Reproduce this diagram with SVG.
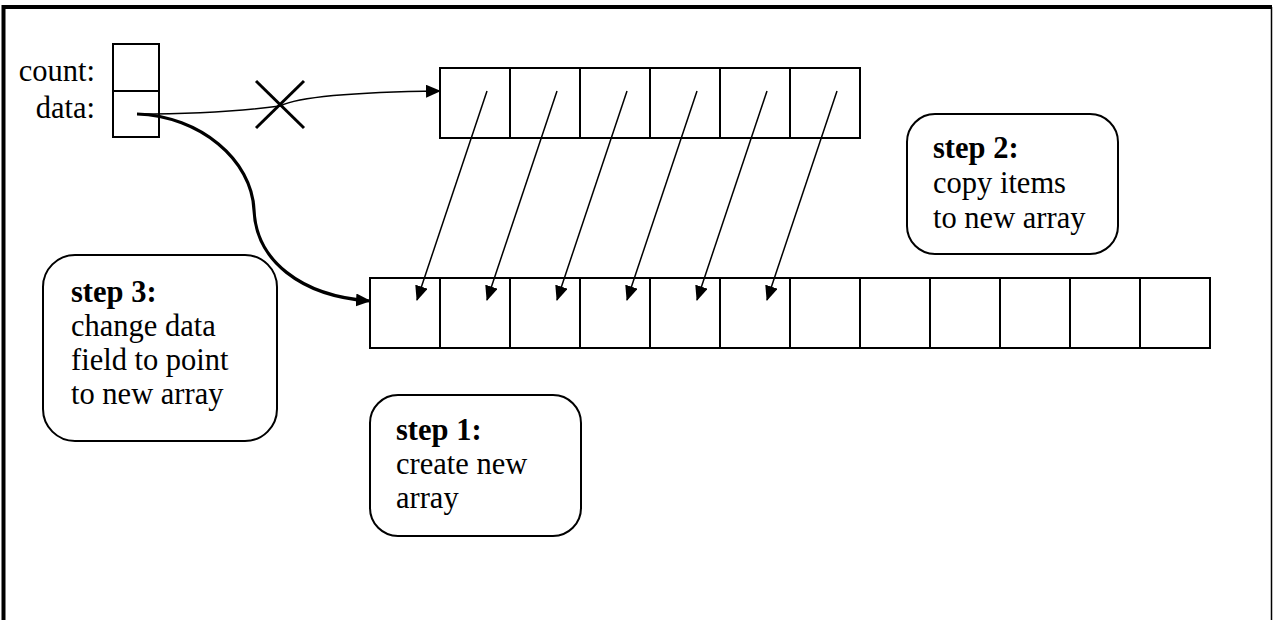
<svg xmlns="http://www.w3.org/2000/svg" width="1273" height="620" viewBox="0 0 1273 620">
<style>
.cell{fill:#fff;stroke:#000;stroke-width:2}
.box{fill:#fff;stroke:#000;stroke-width:2}
.t{font-family:"Liberation Serif",serif;font-size:30.5px;fill:#000}
.b{font-weight:bold}
.thin{fill:none;stroke:#000;stroke-width:1.5}
.thick{fill:none;stroke:#000;stroke-width:3.2}
</style>
<defs>
<marker id="ah" markerWidth="15" markerHeight="13" refX="14" refY="6.5" orient="auto" markerUnits="userSpaceOnUse">
<path d="M0,0 L15,6.5 L0,13 z" fill="#000"/>
</marker>
<marker id="ahk" markerWidth="15" markerHeight="13" refX="14" refY="6.5" orient="auto" markerUnits="userSpaceOnUse">
<path d="M0,0 L15,6.5 L0,13 z" fill="#000"/>
</marker>
</defs>
<rect width="1273" height="620" fill="#fff"/>
<g id="frame">
<path d="M3.5,620 L3.5,7 L1272,7" fill="none" stroke="#000" stroke-width="4"/>
<line x1="1271.5" y1="7" x2="1271.5" y2="620" stroke="#000" stroke-width="1.5"/>
</g>
<g id="struct">
<rect class="cell" x="113" y="44" width="46" height="47"/>
<rect class="cell" x="113" y="91" width="46" height="46"/>
<text class="t" x="95" y="81" text-anchor="end">count:</text>
<text class="t" x="95" y="118" text-anchor="end">data:</text>
</g>
<g id="old-array">
<rect class="cell" x="440" y="68" width="70" height="70"/>
<rect class="cell" x="510" y="68" width="70" height="70"/>
<rect class="cell" x="580" y="68" width="70" height="70"/>
<rect class="cell" x="650" y="68" width="70" height="70"/>
<rect class="cell" x="720" y="68" width="70" height="70"/>
<rect class="cell" x="790" y="68" width="70" height="70"/>
</g>
<g id="new-array">
<rect class="cell" x="370" y="278" width="70" height="70"/>
<rect class="cell" x="440" y="278" width="70" height="70"/>
<rect class="cell" x="510" y="278" width="70" height="70"/>
<rect class="cell" x="580" y="278" width="70" height="70"/>
<rect class="cell" x="650" y="278" width="70" height="70"/>
<rect class="cell" x="720" y="278" width="70" height="70"/>
<rect class="cell" x="790" y="278" width="70" height="70"/>
<rect class="cell" x="860" y="278" width="70" height="70"/>
<rect class="cell" x="930" y="278" width="70" height="70"/>
<rect class="cell" x="1000" y="278" width="70" height="70"/>
<rect class="cell" x="1070" y="278" width="70" height="70"/>
<rect class="cell" x="1140" y="278" width="70" height="70"/>
</g>
<g id="step3">
<rect class="box" x="43" y="255" width="234" height="186" rx="32"/>
<text class="t" x="71" y="302"><tspan class="b">step 3:</tspan><tspan x="71" dy="34">change data</tspan><tspan x="71" dy="34">field to point</tspan><tspan x="71" dy="34">to new array</tspan></text>
</g>
<g id="step1">
<rect class="box" x="370" y="395" width="211" height="141" rx="28"/>
<text class="t" x="396" y="440"><tspan class="b">step 1:</tspan><tspan x="396" dy="34">create new</tspan><tspan x="396" dy="34">array</tspan></text>
</g>
<g id="step2">
<rect class="box" x="907" y="114" width="211" height="140" rx="28"/>
<text class="t" x="933" y="158"><tspan class="b">step 2:</tspan><tspan x="933" dy="35">copy items</tspan><tspan x="933" dy="35">to new array</tspan></text>
</g>
<g id="connectors">
<path class="thin" d="M137,114 C200,114 250,110 280,106 C300,96 360,92 440,91" marker-end="url(#ah)"/>
<g id="cross" stroke="#000" stroke-width="3">
<line x1="256" y1="81" x2="304" y2="128"/>
<line x1="304" y1="81" x2="256" y2="128"/>
</g>
<path class="thick" d="M137,114 C200,116 252,160 254,210 C256,260 300,296 370,301" marker-end="url(#ahk)"/>
<line class="thin" x1="487" y1="91" x2="417" y2="300" marker-end="url(#ah)"/>
<line class="thin" x1="557" y1="91" x2="487" y2="300" marker-end="url(#ah)"/>
<line class="thin" x1="627" y1="91" x2="557" y2="300" marker-end="url(#ah)"/>
<line class="thin" x1="697" y1="91" x2="627" y2="300" marker-end="url(#ah)"/>
<line class="thin" x1="767" y1="91" x2="697" y2="300" marker-end="url(#ah)"/>
<line class="thin" x1="837" y1="91" x2="767" y2="300" marker-end="url(#ah)"/>
</g>
</svg>
